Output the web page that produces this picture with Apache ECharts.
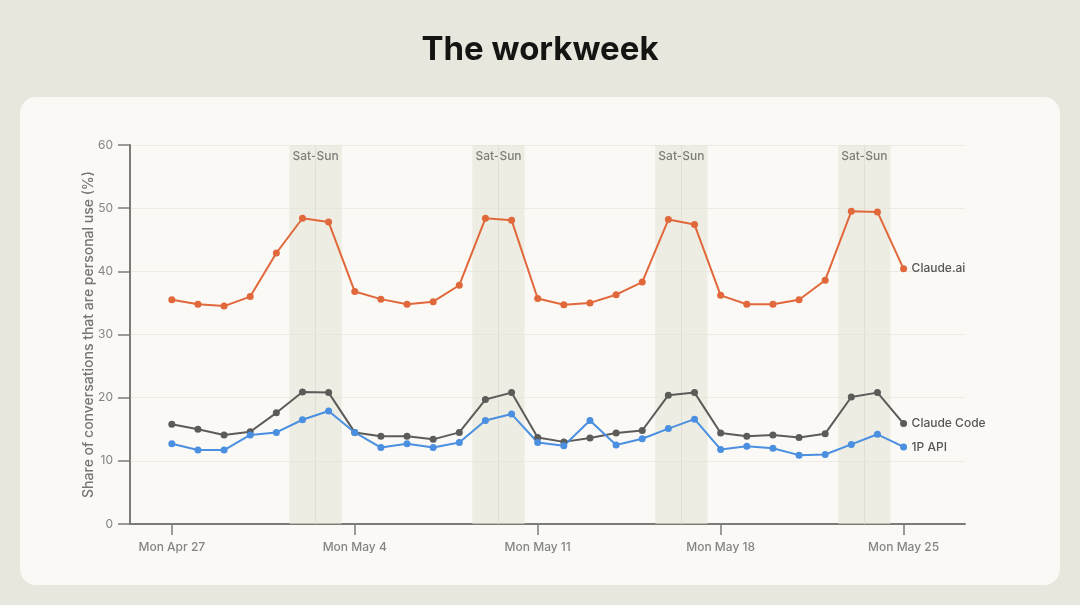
<!DOCTYPE html>
<html>
<head>
<meta charset="utf-8">
<title>The workweek</title>
<script src="https://cdn.jsdelivr.net/npm/echarts@6/dist/echarts.min.js"></script>
<style>
  html, body { margin: 0; padding: 0; background: #e8e7dd; }
  #chart { width: 1080px; height: 605px; }
</style>
</head>
<body>
<div id="chart"></div>
<script>
// day index 0 = Mon Apr 27 ... 28 = Mon May 25
var tickDays = [0, 7, 14, 21, 28];
var tickLabels = ['Mon Apr 27', 'Mon May 4', 'Mon May 11', 'Mon May 18', 'Mon May 25'];
var weekendSat = [5, 12, 19, 26];

var claudeAi = [35.5, 34.8, 34.5, 36.0, 42.9, 48.4, 47.8,
                36.8, 35.6, 34.8, 35.2, 37.8, 48.4, 48.1,
                35.7, 34.7, 35.0, 36.3, 38.3, 48.2, 47.4,
                36.2, 34.8, 34.8, 35.5, 38.6, 49.5, 49.4,
                40.4];
var claudeCode = [15.8, 15.0, 14.1, 14.6, 17.6, 20.9, 20.8,
                  14.5, 13.9, 13.9, 13.4, 14.5, 19.7, 20.8,
                  13.7, 13.0, 13.6, 14.4, 14.8, 20.4, 20.8,
                  14.4, 13.9, 14.1, 13.7, 14.3, 20.1, 20.8,
                  15.9];
var api1p = [12.7, 11.7, 11.7, 14.1, 14.5, 16.5, 17.9,
             14.5, 12.1, 12.7, 12.1, 12.9, 16.4, 17.4,
             12.9, 12.4, 16.4, 12.5, 13.5, 15.1, 16.6,
             11.8, 12.3, 12.0, 10.9, 11.0, 12.6, 14.2,
             12.2];

function pairs(arr) {
  return arr.map(function (v, i) { return [i, v]; });
}

var areas = weekendSat.map(function (d) {
  return [{ xAxis: d - 0.5, name: 'Sat-Sun' }, { xAxis: d + 1.5 }];
});
var dividers = weekendSat.map(function (d) {
  return { xAxis: d + 0.5 };
});

var font = 'Inter, "Open Sans", sans-serif';

function lineSeries(name, data, color) {
  return {
    name: name,
    type: 'line',
    data: pairs(data),
    z: 5,
    symbol: 'circle',
    symbolSize: 7,
    lineStyle: { color: color, width: 2 },
    itemStyle: { color: color },
    endLabel: {
      show: true,
      formatter: '{a}',
      color: '#555555',
      fontSize: 12,
      fontWeight: 500,
      fontFamily: font,
      distance: 8
    }
  };
}

var chart = echarts.init(document.getElementById('chart'));
var option = {
  backgroundColor: '#e8e7dd',
  animation: false,
  textStyle: { fontFamily: font },
  title: {
    text: 'The workweek',
    left: 'center',
    top: 29,
    textStyle: { fontSize: 33, fontWeight: 'bold', color: '#141413', fontFamily: font }
  },
  graphic: [{
    type: 'rect',
    z: -10,
    silent: true,
    shape: { x: 20, y: 97, width: 1040, height: 488, r: 16 },
    style: { fill: '#faf9f5' }
  }],
  grid: { left: 130, right: 115, top: 145, bottom: 81 },
  xAxis: {
    type: 'value',
    min: -1.6,
    max: 30.35,
    axisLine: { show: true, onZero: false, lineStyle: { color: '#7b7b78', width: 2 } },
    axisTick: { show: true, customValues: tickDays, length: 11, lineStyle: { color: '#7b7b78', width: 1.5 } },
    axisLabel: {
      customValues: tickDays,
      color: '#858582',
      fontSize: 12,
      margin: 17,
      fontWeight: 500,
      formatter: function (v) { return tickLabels[tickDays.indexOf(v)] || ''; }
    },
    splitLine: { show: false }
  },
  yAxis: {
    type: 'value',
    min: 0,
    max: 60,
    interval: 10,
    name: 'Share of conversations that are personal use (%)',
    nameLocation: 'middle',
    nameGap: 34,
    nameMoveOverlap: false,
    nameTextStyle: { color: '#757572', fontSize: 14, fontWeight: 500 },
    axisLine: { show: true, onZero: false, lineStyle: { color: '#7b7b78', width: 2 } },
    axisTick: { show: true, length: 12, lineStyle: { color: '#7b7b78', width: 1.5 } },
    axisLabel: { color: '#858582', fontSize: 12, margin: 17 },
    splitLine: { show: true, lineStyle: { color: '#edebe4', width: 1 } }
  },
  series: [
    {
      name: 'weekends',
      type: 'line',
      data: [],
      z: 1,
      silent: true,
      markArea: {
        silent: true,
        itemStyle: { color: 'rgba(230,228,215,0.6)' },
        label: {
          show: true,
          position: 'insideTop',
          distance: 5,
          color: '#7d7d7a',
          fontSize: 12,
          fontWeight: 500
        },
        data: areas
      },
      markLine: {
        silent: true,
        symbol: 'none',
        label: { show: false },
        lineStyle: { color: '#e1dfd5', width: 1, type: 'solid' },
        data: dividers
      }
    },
    lineSeries('Claude.ai', claudeAi, '#e0683a'),
    lineSeries('Claude Code', claudeCode, '#5b5b59'),
    lineSeries('1P API', api1p, '#4a8fe0')
  ]
};
chart.setOption(option);
</script>
</body>
</html>
